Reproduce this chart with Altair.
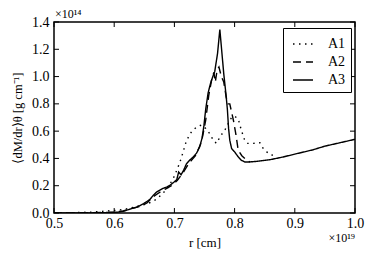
import altair as alt
import pandas as pd

# r in units of 1e19 cm, <dM/dr> in units of 1e14 g/cm
x1 = [0.50, 0.53, 0.56, 0.58, 0.595, 0.605, 0.62, 0.635, 0.648, 0.659, 0.670, 0.680, 0.690,
      0.700, 0.709, 0.714, 0.720, 0.725, 0.729, 0.737, 0.745, 0.752, 0.759, 0.765, 0.770,
      0.776, 0.784, 0.790, 0.795, 0.800, 0.806, 0.811, 0.817, 0.822, 0.831, 0.842, 0.848,
      0.858, 0.866]
y1 = [0.0, 0.002, 0.006, 0.012, 0.018, 0.02, 0.03, 0.045, 0.06, 0.075, 0.10, 0.14, 0.19,
      0.27, 0.37, 0.44, 0.53, 0.57, 0.60, 0.63, 0.645, 0.62, 0.58, 0.53, 0.51,
      0.56, 0.61, 0.66, 0.70, 0.71, 0.69, 0.61, 0.53, 0.51, 0.51, 0.515, 0.47,
      0.43, 0.42]

x2 = [0.50, 0.56, 0.60, 0.615, 0.63, 0.645, 0.655, 0.665, 0.675, 0.685, 0.695, 0.705, 0.715,
      0.725, 0.735, 0.745, 0.752, 0.757, 0.762, 0.7655, 0.768, 0.771, 0.774, 0.778, 0.782,
      0.786, 0.789, 0.792, 0.795, 0.798, 0.802, 0.806, 0.812, 0.817, 0.822, 0.826]
y2 = [0.0, 0.002, 0.006, 0.015, 0.035, 0.05, 0.075, 0.12, 0.15, 0.175, 0.20, 0.24, 0.30,
      0.37, 0.42, 0.52, 0.68, 0.86, 0.98, 1.03, 0.96, 1.05, 1.07, 1.0, 0.96,
      0.85, 0.80, 0.80, 0.74, 0.68, 0.58, 0.46, 0.42, 0.40, 0.38, 0.375]

x3 = [0.50, 0.56, 0.59, 0.605, 0.615, 0.626, 0.637, 0.648, 0.659, 0.665, 0.670, 0.676, 0.681,
      0.687, 0.693, 0.699, 0.704, 0.707, 0.711, 0.715, 0.720, 0.726, 0.731, 0.737, 0.742,
      0.746, 0.749, 0.752, 0.756, 0.760, 0.763, 0.767, 0.7717, 0.7755, 0.778, 0.782, 0.7855,
      0.788, 0.790, 0.792, 0.795, 0.800, 0.806, 0.811, 0.817, 0.825, 0.84, 0.858, 0.88,
      0.908, 0.93, 0.95, 0.975, 1.00]
y3 = [0.0, 0.001, 0.003, 0.006, 0.012, 0.028, 0.042, 0.066, 0.098, 0.13, 0.152, 0.168, 0.18,
      0.19, 0.205, 0.225, 0.245, 0.30, 0.28, 0.31, 0.36, 0.39, 0.41, 0.44, 0.485,
      0.55, 0.64, 0.76, 0.88, 0.95, 0.99, 1.036, 1.171, 1.345, 1.22, 1.02, 0.877,
      0.76, 0.62, 0.534, 0.473, 0.448, 0.411, 0.387, 0.374, 0.374, 0.38, 0.39, 0.41,
      0.44, 0.463, 0.49, 0.515, 0.54]

series_names = ["A1", "A2", "A3"]
x_ticks = [0.5, 0.6, 0.7, 0.8, 0.9, 1.0]
y_ticks = [0.0, 0.2, 0.4, 0.6, 0.8, 1.0, 1.2, 1.4]

rows = []
for s, xs, ys in zip(series_names, [x1, x2, x3], [y1, y2, y3]):
    for i, (a, b) in enumerate(zip(xs, ys)):
        rows.append({"series": s, "r": a, "m": b, "order": i})
df = pd.DataFrame(rows)

W, H = 301, 191
FONT = "Liberation Serif"
TK = 5

xscale = alt.Scale(domain=[0.5, 1.0], nice=False, zero=False)
yscale = alt.Scale(domain=[0.0, 1.4], nice=False, zero=False)

xaxis = alt.Axis(values=x_ticks, format=".1f", title="r [cm]", ticks=False, domain=False,
                 grid=False, labelPadding=3, titlePadding=6, labelFlush=False,
                 titleFontSize=13)
yaxis = alt.Axis(values=y_ticks, format=".1f", title="⟨dM/dr⟩θ  [g cm⁻¹]", ticks=False,
                 domain=False, grid=False, labelPadding=5, titlePadding=7, labelFlush=False,
                 titleFontSize=12.5)

lines = alt.Chart(df).mark_line(strokeWidth=1.4, color="black", clip=True).encode(
    x=alt.X("r:Q", scale=xscale, axis=xaxis),
    y=alt.Y("m:Q", scale=yscale, axis=yaxis),
    strokeDash=alt.StrokeDash(
        "series:N",
        scale=alt.Scale(domain=series_names, range=[[1.5, 4.5], [8, 5], [1, 0]]),
        legend=alt.Legend(title=None, orient="none", legendX=229, legendY=6,
                          symbolType="stroke", symbolSize=400, symbolStrokeWidth=1.4,
                          symbolStrokeColor="black", labelOffset=14, padding=5, symbolOffset=4,
                          rowPadding=-1, strokeColor="black", fillColor="white",
                          cornerRadius=0),
    ),
    order="order:Q",
)

xt = pd.DataFrame({"t": x_ticks})
yt = pd.DataFrame({"t": y_ticks})

bottom_ticks = alt.Chart(xt).mark_rule(color="black", strokeWidth=1).encode(
    x=alt.X("t:Q", scale=xscale, axis=xaxis), y=alt.value(H), y2=alt.value(H - TK))
top_ticks = alt.Chart(xt).mark_rule(color="black", strokeWidth=1).encode(
    x=alt.X("t:Q", scale=xscale, axis=xaxis), y=alt.value(0), y2=alt.value(TK))
left_ticks = alt.Chart(yt).mark_rule(color="black", strokeWidth=1).encode(
    y=alt.Y("t:Q", scale=yscale, axis=yaxis), x=alt.value(0), x2=alt.value(TK))
right_ticks = alt.Chart(yt).mark_rule(color="black", strokeWidth=1).encode(
    y=alt.Y("t:Q", scale=yscale, axis=yaxis), x=alt.value(W), x2=alt.value(W - TK))

ann = pd.DataFrame({"t": ["×10¹⁴"]})
top_note = alt.Chart(ann).mark_text(font=FONT, fontSize=12, align="left", baseline="alphabetic",
                                    color="black").encode(
    text="t:N", x=alt.value(1), y=alt.value(-4))
ann2 = pd.DataFrame({"t": ["×10¹⁹"]})
bot_note = alt.Chart(ann2).mark_text(font=FONT, fontSize=12, align="right", baseline="alphabetic",
                                     color="black").encode(
    text="t:N", x=alt.value(W), y=alt.value(220))

chart = alt.layer(lines, bottom_ticks, top_ticks, left_ticks, right_ticks, top_note, bot_note).properties(
    width=W, height=H,
    autosize=alt.AutoSizeParams(type="none"),
    padding={"left": 46, "top": 14, "right": 10, "bottom": 40},
).configure(
    background="white", font=FONT
).configure_view(
    stroke="black", strokeWidth=1.5
).configure_axis(
    labelFont=FONT, titleFont=FONT, labelFontSize=14,
    titleFontWeight="normal", labelColor="black", titleColor="black"
).configure_legend(
    labelFont=FONT, labelFontSize=14, labelColor="black"
)

chart.save("out.html", embed_options={"renderer": "svg", "actions": False})
